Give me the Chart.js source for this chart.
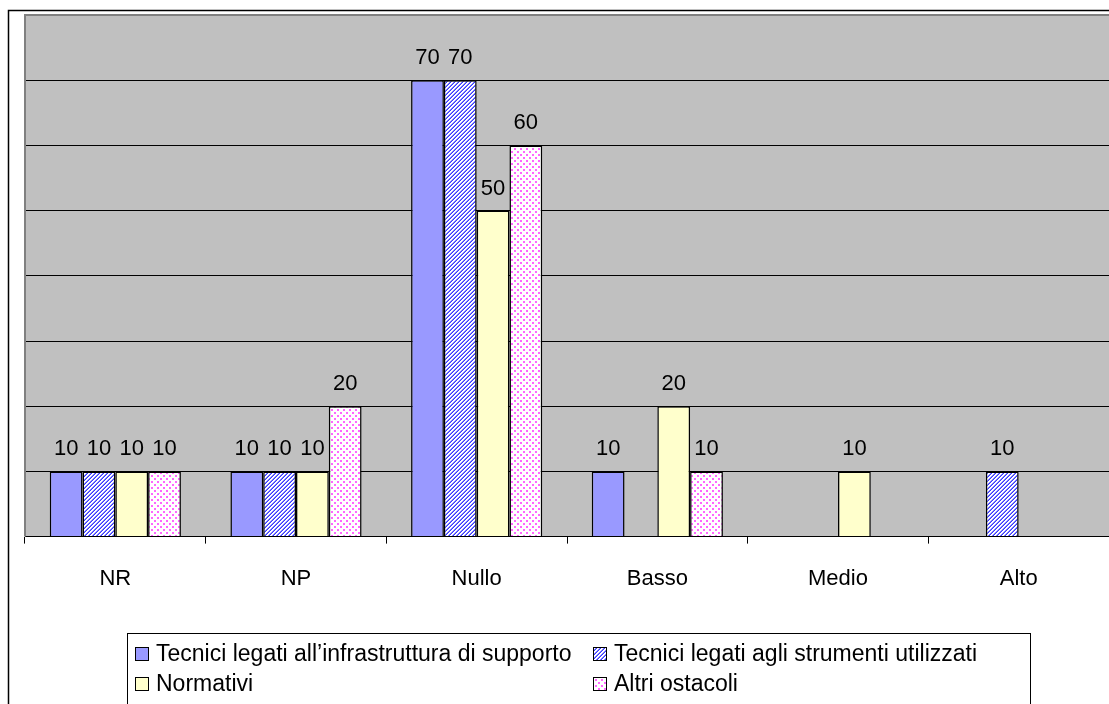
<!DOCTYPE html>
<html>
<head>
<meta charset="utf-8">
<script src="https://cdn.jsdelivr.net/npm/chart.js@4"></script>
<style>
  body { margin: 0; background: #fff; }
  #wrap { width: 1109px; height: 704px; }
</style>
</head>
<body>
<div id="wrap"><canvas id="bar-chart" width="1109" height="704"></canvas></div>
<script>
var categories = ["NR", "NP", "Nullo", "Basso", "Medio", "Alto"];
var infrastruttura = [10, 10, 70, 10, 0, 0];
var strumenti = [10, 10, 70, 0, 0, 10];
var normativi = [10, 10, 50, 20, 10, 0];
var altri = [10, 20, 60, 10, 0, 0];
var seriesNames = [
  "Tecnici legati all\u2019infrastruttura di supporto",
  "Tecnici legati agli strumenti utilizzati",
  "Normativi",
  "Altri ostacoli"
];
var FONT = "'Liberation Sans', Arial, sans-serif";

// hatched fill: blue "/" stripes on white, drawn pixel by pixel
function stripes() {
  var c = document.createElement("canvas");
  c.width = 4; c.height = 4;
  var g = c.getContext("2d");
  g.fillStyle = "#fff";
  g.fillRect(0, 0, 4, 4);
  for (var x = 0; x < 4; x++) {
    for (var y = 0; y < 4; y++) {
      var k = (x + y) % 4;
      if (k === 0) { g.fillStyle = "#3a3aff"; g.fillRect(x, y, 1, 1); }
      if (k === 3) { g.fillStyle = "#8080ff"; g.fillRect(x, y, 1, 1); }
    }
  }
  return g.createPattern(c, "repeat");
}

function dots() {
  var c = document.createElement("canvas");
  c.width = 6; c.height = 6;
  var g = c.getContext("2d");
  g.fillStyle = "#fff";
  g.fillRect(0, 0, 6, 6);
  g.fillStyle = "#ff66ff";
  g.fillRect(1, 1, 2, 2);
  g.fillRect(4, 4, 2, 2);
  return g.createPattern(c, "repeat");
}

var fills = ["#9999ff", stripes(), "#ffffcc", dots()];

var chartFrame = {
  id: "chartFrame",
  beforeDraw: function(chart) {
    var ctx = chart.ctx, a = chart.chartArea;
    ctx.save();
    ctx.fillStyle = "#fff";
    ctx.fillRect(0, 0, chart.width, chart.height);
    ctx.strokeStyle = "#000";
    ctx.lineWidth = 1.5;
    ctx.strokeRect(8.5, 10.5, 2000, 2000);
    ctx.fillStyle = "#c0c0c0";
    ctx.fillRect(a.left, a.top, a.right - a.left, a.bottom - a.top);
    ctx.restore();
  },
  beforeDatasetsDraw: function(chart) {
    var ctx = chart.ctx, a = chart.chartArea;
    ctx.save();
    ctx.strokeStyle = "#808080";
    ctx.lineWidth = 2;
    ctx.beginPath();
    ctx.moveTo(a.left, a.bottom);
    ctx.lineTo(a.left, a.top);
    ctx.lineTo(a.right, a.top);
    ctx.stroke();
    ctx.restore();
  },
  afterDatasetsDraw: function(chart) {
    var ctx = chart.ctx;
    ctx.save();
    ctx.font = "22px " + FONT;
    ctx.fillStyle = "#000";
    ctx.textAlign = "center";
    ctx.textBaseline = "alphabetic";
    chart.data.datasets.forEach(function(ds, i) {
      chart.getDatasetMeta(i).data.forEach(function(bar, j) {
        if (ds.data[j] > 0) ctx.fillText(ds.data[j], bar.x, bar.y - 16);
      });
    });
    ctx.restore();
  },
  afterDraw: function(chart) {
    var ctx = chart.ctx;
    ctx.save();
    ctx.strokeStyle = "#000";
    ctx.lineWidth = 1;
    ctx.strokeRect(127.5, 633.5, 903, 200);
    var pos = [[135, 654], [593, 654], [135, 684], [593, 684]];
    ctx.font = "23px " + FONT;
    ctx.textBaseline = "middle";
    chart.data.datasets.forEach(function(ds, i) {
      var p = pos[i];
      ctx.fillStyle = ds.backgroundColor;
      ctx.fillRect(p[0], p[1] - 7, 14, 14);
      ctx.strokeStyle = "#000";
      ctx.strokeRect(p[0] + 0.5, p[1] - 6.5, 13, 13);
      ctx.fillStyle = "#000";
      ctx.fillText(ds.label, p[0] + 21, p[1] + 1);
    });
    ctx.restore();
  }
};

var datasets = [infrastruttura, strumenti, normativi, altri].map(function(vals, i) {
  return {
    label: seriesNames[i],
    data: vals,
    backgroundColor: fills[i],
    borderColor: "#000",
    borderWidth: 1.5,
    categoryPercentage: 0.726,
    barPercentage: 1
  };
});

new Chart(document.getElementById("bar-chart"), {
  type: "bar",
  data: { labels: categories, datasets: datasets },
  plugins: [chartFrame],
  options: {
    responsive: false,
    animation: false,
    layout: { padding: { left: 25, top: 15, right: 0, bottom: 90 } },
    plugins: { legend: { display: false }, tooltip: { enabled: false } },
    scales: {
      x: {
        offset: true,
        grid: { display: true, drawOnChartArea: false, offset: true, tickLength: 7, color: "#000" },
        border: { display: true, color: "#000", width: 1 },
        ticks: { color: "#000", font: { size: 22, family: FONT }, padding: 22 }
      },
      y: {
        min: 0,
        max: 80,
        ticks: { display: false, stepSize: 10 },
        grid: { color: "#000", drawTicks: false, lineWidth: 1 },
        border: { display: false }
      }
    }
  }
});
</script>
</body>
</html>
